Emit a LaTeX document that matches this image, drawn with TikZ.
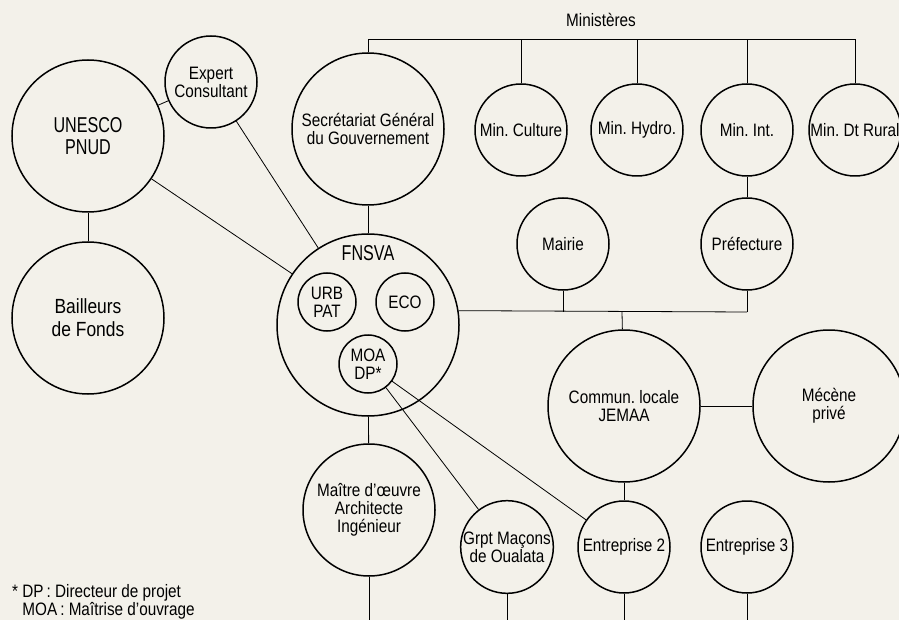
\documentclass[tikz,border=0pt]{standalone}
\usepackage{fontspec}
\setmainfont{Liberation Sans}[FakeStretch=0.85]
\newfontfamily\capsfont{Liberation Sans}[FakeStretch=0.75]
\definecolor{paper}{RGB}{243,241,234}
\frenchspacing
\tikzset{
  org/.style={circle, draw, line width=1.5pt, inner sep=0pt, align=center,
    font=\fontsize{18}{18}\selectfont},
  orgbig/.style={org, minimum size=152pt},
  orgmid/.style={org, minimum size=92pt},
  orgsmall/.style={org, minimum size=58pt},
  bigtext/.style={font=\fontsize{20.5}{23}\selectfont},
  capstext/.style={font=\capsfont\fontsize{21.5}{22.5}\selectfont},
  link/.style={line width=0.8pt}
}
\begin{document}
\begin{tikzpicture}[x=1pt, y=-1pt]
          \fill [paper] (0,0) rectangle (899,620);
          \useasboundingbox (0,0) rectangle (899,620);
          \node [orgbig, capstext] (un) at (88,136) {UNESCO\\PNUD};
          \node [orgbig, bigtext] (bf) at (88,318) {Bailleurs\\de Fonds};
          \node [orgmid] (ex) at (211,82) {Expert\\Consultant};
          \node [orgbig] (sg) at (368,129) {Secr\'etariat G\'en\'eral\\du Gouvernement};
          \node [org, minimum size=182pt] (fn) at (368,325) {};
          \node [capstext] (fntext) at (368,253) {FNSVA};
          \node [orgsmall] (urb) at (327,302) {URB\\PAT};
          \node [orgsmall] (eco) at (405,302) {ECO};
          \node [orgsmall] (moa) at (368,364) {MOA\\DP*};
          \node [org, minimum size=132pt] (moe) at (369,510) {Ma\^itre d’œuvre\\Architecte\\Ing\'enieur};
          \node [font=\fontsize{18}{18}\selectfont] (min) at (601,20) {Minist\`eres};
          \node [orgmid] (mc) at (521,130) {Min. Culture};
          \node [orgmid] (mh) at (637,130) {Min. Hydro.};
          \node [orgmid] (mi) at (747,130) {Min. Int.};
          \node [orgmid] (mr) at (855,130) {Min. Dt Rural};
          \node [orgmid] (ma) at (563,244) {Mairie};
          \node [orgmid] (pr) at (747,244) {Pr\'efecture};
          \node [orgbig] (jm) at (624,406) {Commun. locale\\JEMAA};
          \node [orgbig] (mp) at (829,406) {M\'ec\`ene\\priv\'e};
          \node [orgmid] (gm) at (507,547) {Grpt Ma\c{c}ons\\de Oualata};
          \node [orgmid] (e2) at (624,547) {Entreprise 2};
          \node [orgmid] (e3) at (747,547) {Entreprise 3};
          \node [anchor=north west, align=left, inner sep=0pt,
            font=\fontsize{18}{18.5}\selectfont] (note) at (12,584)
            {* DP\,: Directeur de projet\\\phantom{* }MOA\,: Ma\^itrise d’ouvrage};
          \coordinate (top) at (855,39);
          \coordinate (hub) at (622,312);
          \coordinate (bottom) at (0,620);
          \draw [link] (sg.north) |- (top) -- (mr.north);
          \draw [link] (mc.north) -- (mc.north |- top);
          \draw [link] (mh.north) -- (mh.north |- top);
          \draw [link] (mi.north) -- (mi.north |- top);
          \draw [link] (mi) -- (pr);
          \draw [link] (un) -- (ex);
          \draw [link] (un) -- (bf);
          \draw [link] (un) -- (fn);
          \draw [link] (ex) -- (fn);
          \draw [link] (sg) -- (fn);
          \draw [link] (fn.9) -- (pr.south |- hub);
          \draw [link] (ma) -- (ma |- hub);
          \draw [link] (pr) -- (pr |- hub);
          \draw [link] (hub) -- (jm);
          \draw [link] (jm) -- (mp);
          \draw [link] (jm) -- (e2);
          \draw [link] (fn) -- (moe);
          \draw [link] (moa) -- (gm);
          \draw [link] (moa) -- (e2);
          \draw [link] (moe) -- (moe |- bottom);
          \draw [link] (gm) -- (gm |- bottom);
          \draw [link] (e2) -- (e2 |- bottom);
          \draw [link] (e3) -- (e3 |- bottom);
      \end{tikzpicture}
\end{document}
